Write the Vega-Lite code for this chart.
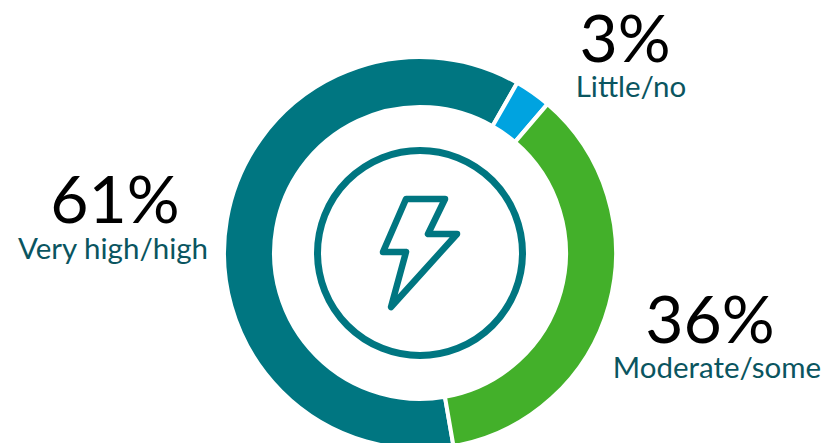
{"$schema":"https://vega.github.io/schema/vega-lite/v6.json","width":390,"height":380,"autosize":{"type":"none"},"padding":{"left":225,"top":63,"right":210,"bottom":0},"background":"white","view":{"stroke":null},"config":{"text":{"font":"Lato"}},"data":{"values":[{"name":"Very high/high","value":61,"pct":"61%","rank":1},{"name":"Little/no","value":3,"pct":"3%","rank":2},{"name":"Moderate/some","value":36,"pct":"36%","rank":3}]},"layer":[{"mark":{"type":"arc","innerRadius":146,"outerRadius":196,"stroke":"white","strokeWidth":4},"encoding":{"theta":{"field":"value","type":"quantitative","stack":true,"scale":{"range":[2.97,9.253]}},"order":{"field":"rank","type":"quantitative"},"color":{"field":"name","type":"nominal","legend":null,"scale":{"domain":["Very high/high","Little/no","Moderate/some"],"range":["#007681","#00A3E0","#43B02A"]}}}},{"data":{"values":[{"icon":"ring"}]},"mark":{"type":"point","shape":"circle","size":42025,"fill":null,"filled":false,"stroke":"#007681","strokeWidth":7,"opacity":1},"encoding":{}},{"data":{"values":[{"icon":"bolt"}]},"mark":{"type":"point","shape":"M-0.233 -0.9L0.417 -0.9L0.133 -0.317L0.617 -0.317L-0.483 0.9L-0.233 -0.017L-0.617 -0.017Z","size":14400,"fill":null,"filled":false,"stroke":"#007681","strokeWidth":6.5,"strokeJoin":"round","opacity":1},"encoding":{}},{"transform":[{"filter":"datum.rank==1"}],"mark":{"type":"text","fontSize":66,"color":"black","align":"center","baseline":"alphabetic","dx":-305,"dy":-30},"encoding":{"text":{"field":"pct"}}},{"transform":[{"filter":"datum.rank==2"}],"mark":{"type":"text","fontSize":66,"color":"black","align":"center","baseline":"alphabetic","dx":205,"dy":-191},"encoding":{"text":{"field":"pct"}}},{"transform":[{"filter":"datum.rank==3"}],"mark":{"type":"text","fontSize":66,"color":"black","align":"center","baseline":"alphabetic","dx":290,"dy":90},"encoding":{"text":{"field":"pct"}}},{"transform":[{"filter":"datum.rank==1"}],"mark":{"type":"text","fontSize":29.5,"color":"#0A5560","align":"center","baseline":"alphabetic","dx":-307,"dy":6},"encoding":{"text":{"field":"name"}}},{"transform":[{"filter":"datum.rank==2"}],"mark":{"type":"text","fontSize":29.5,"color":"#0A5560","align":"center","baseline":"alphabetic","dx":211,"dy":-156},"encoding":{"text":{"field":"name"}}},{"transform":[{"filter":"datum.rank==3"}],"mark":{"type":"text","fontSize":29.5,"color":"#0A5560","align":"center","baseline":"alphabetic","dx":297,"dy":125},"encoding":{"text":{"field":"name"}}}]}
